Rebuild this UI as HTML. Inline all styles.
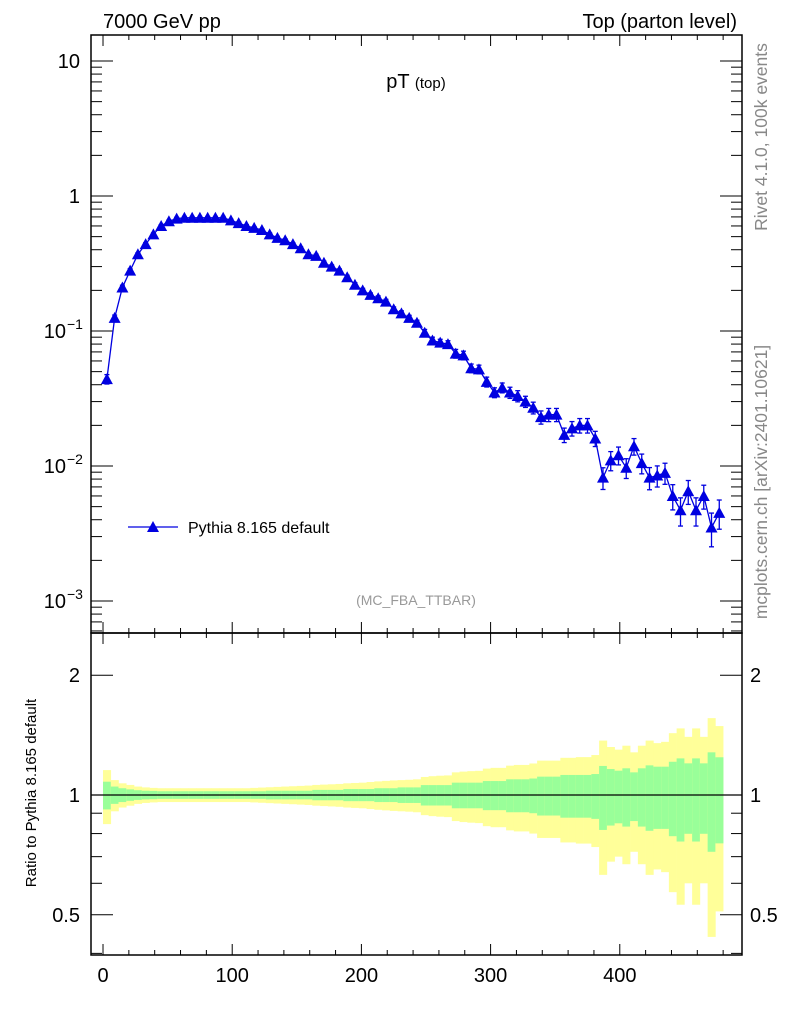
<!DOCTYPE html>
<html><head><meta charset="utf-8"><style>
body{margin:0;background:#fff;}
svg text{font-family:"Liberation Sans",sans-serif;}
</style></head><body>
<svg id="chart" width="786" height="1024" xmlns="http://www.w3.org/2000/svg">
<g id="bands"></g>
<g id="axes"></g>
<g id="series"></g>
<text x="103" y="28" font-size="20">7000 GeV pp</text>
<text x="737" y="28" font-size="20" text-anchor="end">Top (parton level)</text>
<text x="416" y="88" font-size="20" text-anchor="middle">pT <tspan font-size="15">(top)</tspan></text>
<text x="416" y="605" font-size="14" fill="#999" text-anchor="middle">(MC_FBA_TTBAR)</text>
<text transform="translate(767,137) rotate(-90)" font-size="17.5" fill="#888" text-anchor="middle">Rivet 4.1.0,  100k events</text>
<text transform="translate(767,482) rotate(-90)" font-size="17.5" fill="#888" text-anchor="middle">mcplots.cern.ch [arXiv:2401.10621]</text>
<text transform="translate(36,793) rotate(-90)" font-size="15" text-anchor="middle">Ratio to Pythia 8.165 default</text>
<g>
<line x1="128" y1="527" x2="178" y2="527" stroke="#0000e0" stroke-width="1.3"/>
<polygon points="147,532 159,532 153,521" fill="#0000e0"/>
<text x="188" y="533" font-size="16">Pythia 8.165 default</text>
</g>
</svg>
<script>
const centers=[];for(let i=0;i<80;i++)centers.push(3+6*i);
const values=[0.044,0.125,0.21,0.28,0.37,0.44,0.52,0.60,0.65,0.68,0.69,0.69,0.69,0.69,0.69,0.69,0.66,0.63,0.60,0.58,0.56,0.52,0.49,0.47,0.44,0.41,0.37,0.36,0.32,0.30,0.28,0.25,0.22,0.20,0.185,0.175,0.165,0.145,0.135,0.125,0.115,0.097,0.085,0.082,0.080,0.068,0.066,0.053,0.052,0.042,0.035,0.038,0.035,0.033,0.030,0.027,0.023,0.024,0.024,0.017,0.019,0.020,0.020,0.016,0.0082,0.011,0.012,0.0097,0.014,0.0105,0.0082,0.0085,0.0089,0.0060,0.0047,0.0065,0.0047,0.0060,0.0035,0.0045];
const statErr=[0.08,0.05,0.04,0.033,0.028,0.025,0.024,0.022,0.022,0.022,0.022,0.022,0.022,0.022,0.022,0.022,0.022,0.022,0.022,0.022,0.022,0.025,0.025,0.025,0.025,0.025,0.025,0.03,0.03,0.03,0.03,0.035,0.035,0.035,0.035,0.04,0.04,0.04,0.045,0.045,0.045,0.059,0.059,0.059,0.059,0.074,0.074,0.074,0.074,0.084,0.084,0.084,0.095,0.095,0.095,0.10,0.112,0.112,0.112,0.123,0.123,0.123,0.123,0.129,0.183,0.162,0.151,0.167,0.14,0.167,0.187,0.178,0.178,0.212,0.236,0.201,0.236,0.201,0.28,0.244];
const totErr=[0.155,0.09,0.07,0.06,0.05,0.045,0.042,0.04,0.04,0.04,0.04,0.04,0.04,0.04,0.04,0.04,0.04,0.04,0.04,0.042,0.044,0.046,0.048,0.05,0.052,0.054,0.056,0.06,0.062,0.064,0.066,0.07,0.072,0.074,0.078,0.082,0.085,0.088,0.09,0.092,0.095,0.11,0.115,0.118,0.12,0.14,0.145,0.148,0.15,0.165,0.17,0.17,0.185,0.19,0.19,0.2,0.22,0.22,0.22,0.24,0.24,0.245,0.245,0.26,0.37,0.32,0.3,0.33,0.28,0.33,0.37,0.35,0.36,0.43,0.47,0.4,0.47,0.4,0.56,0.49];
const xTicks=[0,100,200,300,400];
const ns="http://www.w3.org/2000/svg";
const L=91,R=742,T=35,M=633,B=955;
const X=v=>L+(v+9.3)/503.9*(R-L);
const Y=v=>196-135*Math.log10(v);
const RY=r=>795-398*Math.log10(r);
function mk(tag,at,parent){const e=document.createElementNS(ns,tag);for(const k in at)e.setAttribute(k,at[k]);document.getElementById(parent).appendChild(e);return e;}
for(let i=0;i<centers.length;i++){
 const x0=X(centers[i]-3),x1=X(centers[i]+3);
 const y=mk('rect',{x:x0,y:RY(1+totErr[i]),width:x1-x0+0.3,height:RY(1-totErr[i])-RY(1+totErr[i]),fill:'#ffff99'},'bands');
 
 
 const g=mk('rect',{x:x0,y:RY(1+statErr[i]),width:x1-x0+0.3,height:RY(1-statErr[i])-RY(1+statErr[i]),fill:'#99ff99'},'bands');
 
 
}
mk('line',{x1:L,x2:R,y1:RY(1),y2:RY(1),stroke:'#000','stroke-width':1.2},'bands');
mk('rect',{x:L,y:T,width:R-L,height:M-T,fill:'none',stroke:'#000','stroke-width':1.5},'axes');
mk('rect',{x:L,y:M,width:R-L,height:B-M,fill:'none',stroke:'#000','stroke-width':1.5},'axes');
for(let v=0;v<=480;v+=20){const maj=v%100==0;const len=maj?11:5;const x=X(v);
 for(const [yb,dir] of [[M,-1],[T,1],[B,-1],[M,1]]) mk('line',{x1:x,x2:x,y1:yb,y2:yb+dir*len,stroke:'#000','stroke-width':1},'axes');}
xTicks.forEach(v=>{const t=mk('text',{x:X(v),y:982,'font-size':20,'text-anchor':'middle'},'axes');t.textContent=v;
 
 });
for(let d=-4;d<=1;d++){for(let m=1;m<10;m++){const v=m*Math.pow(10,d);const y=Y(v);if(y<T||y>M)continue;const len=m==1?22:11;
 mk('line',{x1:L,x2:L+len,y1:y,y2:y,stroke:'#000','stroke-width':1},'axes');mk('line',{x1:R,x2:R-len,y1:y,y2:y,stroke:'#000','stroke-width':1},'axes');}}
const ylab=[[10,'10',''],[1,'1',''],[0.1,'10','−1'],[0.01,'10','−2'],[0.001,'10','−3']];
ylab.forEach(a=>{const t=mk('text',{x:a[2]?66:80,y:Y(a[0])+7,'font-size':20,'text-anchor':'end'},'axes');t.textContent=a[1];
 
 
 if(a[2]){const s=mk('text',{x:67,y:Y(a[0])-2,'font-size':14},'axes');s.textContent=a[2];}});
[0.4,0.5,0.6,0.7,0.8,0.9,1,2].forEach(r=>{const y=RY(r);const maj=(r==0.5||r==1||r==2);const len=maj?22:11;
 mk('line',{x1:L,x2:L+len,y1:y,y2:y,stroke:'#000','stroke-width':1},'axes');mk('line',{x1:R,x2:R-len,y1:y,y2:y,stroke:'#000','stroke-width':1},'axes');
 if(maj){const s=r==1?'1':(r==2?'2':'0.5');
  const t=mk('text',{x:80,y:y+7,'font-size':20,'text-anchor':'end'},'axes');t.textContent=s;
  
  
  const t2=mk('text',{x:750,y:y+7,'font-size':20},'axes');t2.textContent=s;
  
  }});
let pts=centers.map((c,i)=>X(c)+','+Y(values[i])).join(' ');
mk('polyline',{points:pts,fill:'none',stroke:'#0000e0','stroke-width':1.3},'series');
centers.forEach((c,i)=>{const x=X(c),y=Y(values[i]);
 const y1=Y(values[i]*(1+statErr[i])),y2=Y(values[i]*(1-statErr[i]));
 mk('line',{x1:x,x2:x,y1:y1,y2:y2,stroke:'#0000e0','stroke-width':1.3},'series');
 mk('line',{x1:x-2.5,x2:x+2.5,y1:y1,y2:y1,stroke:'#0000e0','stroke-width':1.3},'series');
 mk('line',{x1:x-2.5,x2:x+2.5,y1:y2,y2:y2,stroke:'#0000e0','stroke-width':1.3},'series');
 const p=mk('polygon',{points:`${x-6},${y+5} ${x+6},${y+5} ${x},${y-6}`,fill:'#0000e0'},'series');
 
 });
</script>
</body></html>
